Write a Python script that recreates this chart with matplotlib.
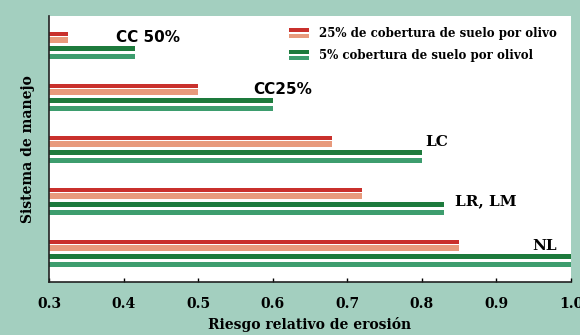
import matplotlib
matplotlib.use("Agg")
import matplotlib.pyplot as plt
from matplotlib.patches import Rectangle
from matplotlib.legend_handler import HandlerBase
import numpy as np

# Management systems (top to bottom) and relative erosion risk
systems = ["CC 50%", "CC25%", "LC", "LR, LM", "NL"]
cover_25 = [0.325, 0.50, 0.68, 0.72, 0.85]
cover_5 = [0.415, 0.60, 0.80, 0.83, 1.00]
series_names = ["25% de cobertura de suelo por olivo",
                "5% cobertura de suelo por olivol"]
xticks = [0.3, 0.4, 0.5, 0.6, 0.7, 0.8, 0.9, 1.0]
xtick_labels = ["0.3", "0.4", "0.5", "0.6", "0.7", "0.8", "0.9", "1.0"]

# Label placement (data coordinates) for each system name
label_x = [0.433, 0.613, 0.820, 0.886, 0.964]
label_dy = [-0.17, -0.17, -0.15, -0.02, -0.15]
label_family = ["DejaVu Sans", "DejaVu Sans", "DejaVu Serif", "DejaVu Serif", "DejaVu Serif"]

BG = "#a3cfbf"
RED_DARK = "#c9302c"
RED_LIGHT = "#e89a7c"
GREEN_DARK = "#1d7a3c"
GREEN_LIGHT = "#3d9d6e"

fig = plt.figure(figsize=(5.8, 3.35), dpi=100, facecolor=BG)
ax = fig.add_axes([0.0845, 0.158, 0.9, 0.794])
ax.set_facecolor("white")

y = np.arange(len(systems))
left = 0.3
w25 = np.array(cover_25) - left
w5 = np.array(cover_5) - left

# each bar is drawn as a dark stripe above a lighter stripe
ax.barh(y - 0.23, w25, left=left, height=0.077, color=RED_DARK, linewidth=0)
ax.barh(y - 0.115, w25, left=left, height=0.115, color=RED_LIGHT, linewidth=0)
ax.barh(y + 0.048, w5, left=left, height=0.096, color=GREEN_DARK, linewidth=0)
ax.barh(y + 0.20, w5, left=left, height=0.096, color=GREEN_LIGHT, linewidth=0)

for i, name in enumerate(systems):
    ax.text(label_x[i], y[i] + label_dy[i], name, ha="center", va="center",
            fontsize=11, fontweight="bold", family=label_family[i], color="black")

ax.set_xlim(0.3, 1.0)
ax.set_ylim(4.54, -0.58)
ax.set_xticks(xticks)
ax.set_xticklabels(xtick_labels, fontsize=10, fontweight="bold", family="DejaVu Serif")
ax.tick_params(axis="x", direction="in", length=3, pad=11, width=1)
ax.set_yticks([])

for s in ["top", "right"]:
    ax.spines[s].set_visible(False)
for s in ["left", "bottom"]:
    ax.spines[s].set_linewidth(1.2)
    ax.spines[s].set_color("#222222")

ax.set_xlabel("Riesgo relativo de erosión", fontsize=10, fontweight="bold",
              family="DejaVu Serif", labelpad=4)
ax.set_ylabel("Sistema de manejo", fontsize=10, fontweight="bold",
              family="DejaVu Serif", labelpad=10)


class StripeHandler(HandlerBase):
    def __init__(self, dark, light):
        super().__init__()
        self.dark = dark
        self.light = light

    def create_artists(self, legend, orig_handle, xdescent, ydescent,
                       width, height, fontsize, trans):
        h = height / 2.6
        top = Rectangle((-xdescent, -ydescent + height - h), width, h,
                        facecolor=self.dark, linewidth=0, transform=trans)
        bot = Rectangle((-xdescent, -ydescent), width, h,
                        facecolor=self.light, linewidth=0, transform=trans)
        return [top, bot]


h1 = Rectangle((0, 0), 1, 1)
h2 = Rectangle((0, 0), 1, 1)
leg = ax.legend([h1, h2], series_names, loc="upper left",
                bbox_to_anchor=(0.44, 1.0), frameon=False,
                handler_map={h1: StripeHandler(RED_DARK, RED_LIGHT),
                             h2: StripeHandler(GREEN_DARK, GREEN_LIGHT)},
                prop={"family": "DejaVu Serif", "weight": "bold", "size": 8.5},
                handlelength=1.7, handleheight=0.9, handletextpad=0.8,
                labelspacing=0.8)

fig.savefig("out.png", dpi=100, facecolor=BG)
